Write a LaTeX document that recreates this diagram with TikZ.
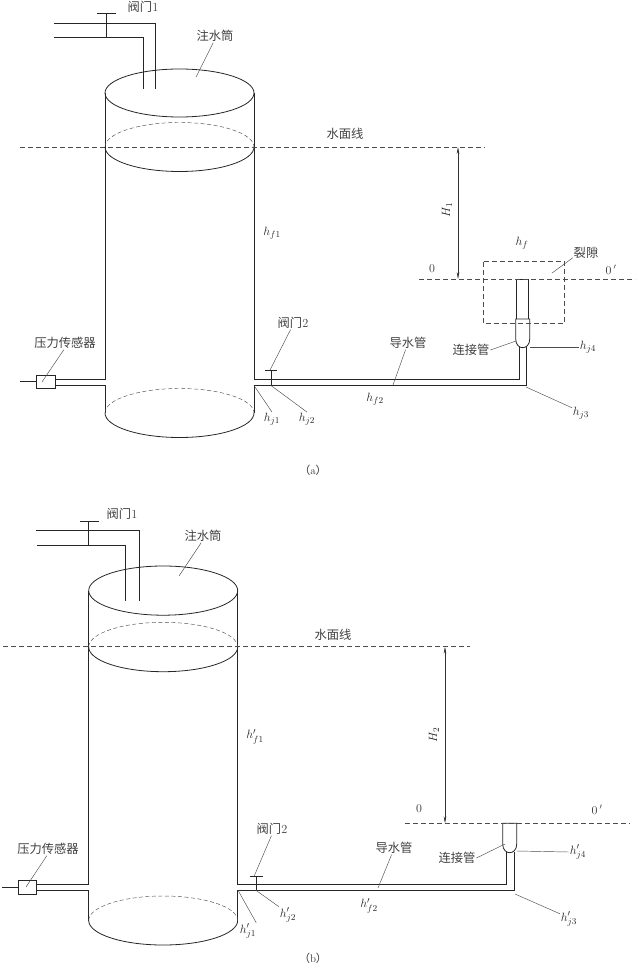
\documentclass[tikz,border=0pt]{standalone}
\usepackage{fontspec}
\usepackage{amsmath}
\newfontfamily\cjkfont{Noto Sans CJK SC}
\usetikzlibrary{arrows.meta}

\tikzset{
	wall/.style={line width=0.8pt, black!85},
	thin line/.style={line width=0.45pt, black!70},
	leader/.style={line width=0.45pt, black!70},
	water/.style={line width=0.45pt, black!70, dash pattern=on 5pt off 3pt},
	head/.style={line width=0.45pt, black!80, {Stealth[length=7pt,width=2.6pt]}-{Stealth[length=7pt,width=2.6pt]}},
	word/.style={inner sep=0.75pt, black!75, font=\cjkfont\fontsize{12.3}{14}\selectfont},
	sym/.style={inner sep=0.75pt, black!85, font=\fontsize{12.5}{14}\selectfont},
	num/.style={inner sep=0.75pt, black!80, font=\fontsize{12}{14}\selectfont},
	caption/.style={inner sep=0.75pt, black!80, font=\fontsize{11}{13}\selectfont}
}

\begin{document}
\begin{tikzpicture}[x=1pt,y=1pt,yscale=-1,xscale=1]
		\useasboundingbox (0,0) rectangle (638,968);

		% Panel (a): the tank
		\draw[wall] (179.5,93) ellipse (74.5 and 24);
		\draw[wall] (105,93) -- (105,379) -- (55,379);
		\draw[wall] (55,385.5) -- (105,385.5) -- (105,413);
		\draw[wall] (254,93) -- (254,379) -- (519,379) -- (519,347);
		\draw[wall] (254,413) -- (254,385.5) -- (526,385.5) -- (526,347);
		\draw[wall] (105,147) arc (180:0:74.5 and 24.5);
		\draw[thin line, dash pattern=on 4pt off 2.5pt] (105,147) arc (180:360:74.5 and 24.5);
		\draw[wall] (105,413) arc (180:0:74.5 and 24.5);
		\draw[thin line, dash pattern=on 4pt off 2.5pt] (105,413) arc (180:360:74.5 and 24.5);

		% Panel (a): inlet pipe and valves
		\draw[wall] (54,23) -- (155.5,23) -- (155.5,89);
		\draw[wall] (54,37) -- (143.5,37) -- (143.5,89);
		\draw[wall] (97,13) -- (116,13);
		\draw[wall] (106.5,13) -- (106.5,37);
		\draw[wall] (265,370) -- (277,370);
		\draw[wall] (271,370) -- (271,385.5);

		% Panel (a): sensor
		\node[draw, line width=0.8pt, black!85, minimum width=19pt, minimum height=12.5pt, inner sep=0pt] (sensorA) at (45.5,381.8) {};
		\coordinate (sensorEndA) at (20,381.8);
		\draw[wall] (sensorEndA) -- (sensorA);

		% Panel (a): tube in the crack and its connector
		\draw[wall] (516.5,319) -- (516.5,279) -- (528.5,279) -- (528.5,319);
		\draw[wall] (515.7,319) -- (529.7,319) -- (529.7,339) .. controls (529.7,345) and (526,347.7) .. (522.7,347.7) .. controls (519.4,347.7) and (515.7,345) .. (515.7,339) -- cycle;
		\draw[thin line, dash pattern=on 5pt off 3pt] (483.3,261.7) rectangle (564.3,323.3);

		% Panel (a): water level and datum
		\draw[water] (20,147) -- (485,147);
		\draw[water] (419,279) -- (635,279);
		\coordinate (levelA) at (458,147);
		\coordinate (datumA) at (458,279);
		\draw[head] (levelA) -- (datumA);

		% Panel (a): labels
		\node[word] (valveOneA) at (143,7) {阀门\textrm{1}};
		\node[word] (tankA) at (215,36) {注水筒};
		\node[word] (levelWordA) at (345,134) {水面线};
		\node[word] (crackA) at (586,253) {裂隙};
		\node[word] (jointA) at (471,350) {连接管};
		\node[word] (guideA) at (408,343) {导水管};
		\node[word] (valveTwoA) at (293,323) {阀门\textrm{2}};
		\node[word] (gaugeA) at (65,343) {压力传感器};
		\node[num] (zeroA) at (432,269) {0};
		\node[num] (zeroPrimeA) at (611,270) {0$\,'$};
		\node[sym, rotate=90] (headA) at (447,210) {$H_{1}$};
		\node[sym] (hfOneA) at (272,233) {$h_{f1}$};
		\node[sym] (hfA) at (522,243) {$h_{f}$};
		\node[sym] (hfTwoA) at (375,399) {$h_{f2}$};
		\node[sym] (hjOneA) at (272,419) {$h_{j1}$};
		\node[sym] (hjTwoA) at (307,419) {$h_{j2}$};
		\node[sym] (hjThreeA) at (581,413) {$h_{j3}$};
		\node[sym] (hjFourA) at (588,347) {$h_{j4}$};
		\node[caption] (capA) at (313,470) {{\cjkfont （}a{\cjkfont ）}};

		% Panel (a): leaders
		\draw[leader] (tankA.255) -- (196,77);
		\draw[leader] (crackA.200) -- (552,273);
		\draw[leader] (jointA.east) -- (516,341);
		\draw[leader] (guideA.250) -- (393,385);
		\draw[leader] (valveTwoA.250) -- (270,370);
		\draw[leader] (gaugeA.260) -- (42,382);
		\draw[leader] (hjOneA.north) -- (254,385.5);
		\draw[leader] (hjTwoA.north) -- (271,385.5);
		\draw[leader] (hjThreeA.150) -- (526,387);
		\draw[leader] (hjFourA.west) -- (530,347);

		% Panel (b): the tank
		\draw[wall] (163.2,590.6) ellipse (74.5 and 24.6);
		\draw[wall] (88.7,590.6) -- (88.7,884.7) -- (36.7,884.7);
		\draw[wall] (36.7,890.3) -- (88.7,890.3) -- (88.7,920.5);
		\draw[wall] (237.7,590.6) -- (237.7,884.7) -- (506.7,884.7) -- (506.7,851.7);
		\draw[wall] (237.7,920.5) -- (237.7,890.3) -- (514,890.3) -- (514,851.7);
		\draw[wall] (88.7,647) arc (180:0:74.5 and 24.7);
		\draw[thin line, dash pattern=on 4pt off 2.5pt] (88.7,647) arc (180:360:74.5 and 24.7);
		\draw[wall] (88.7,920.5) arc (180:0:74.5 and 24.5);
		\draw[thin line, dash pattern=on 4pt off 2.5pt] (88.7,920.5) arc (180:360:74.5 and 24.5);

		% Panel (b): inlet pipe and valves
		\draw[wall] (36,530.3) -- (139,530.3) -- (139,601);
		\draw[wall] (37,545.7) -- (125.5,545.7) -- (125.5,601);
		\draw[wall] (80,521) -- (99,521);
		\draw[wall] (88.5,521) -- (88.5,545.7);
		\draw[wall] (250,876.5) -- (263,876.5);
		\draw[wall] (256,876.5) -- (256,890.3);

		% Panel (b): sensor
		\node[draw, line width=0.8pt, black!85, minimum width=18pt, minimum height=13.3pt, inner sep=0pt] (sensorB) at (27.7,887.3) {};
		\coordinate (sensorEndB) at (2,887.3);
		\draw[wall] (sensorEndB) -- (sensorB);

		% Panel (b): connector at the datum
		\draw[wall] (502.7,823.3) -- (516.7,823.3) -- (516.7,844) .. controls (516.7,850) and (513,852.7) .. (509.7,852.7) .. controls (506.4,852.7) and (502.7,850) .. (502.7,844) -- cycle;

		% Panel (b): water level and datum
		\draw[water] (3,646.7) -- (470,646.7);
		\draw[water] (405,823.3) -- (630,823.3);
		\coordinate (levelB) at (445,646.7);
		\coordinate (datumB) at (445,823.3);
		\draw[head] (levelB) -- (datumB);

		% Panel (b): labels
		\node[word] (valveOneB) at (122,514) {阀门\textrm{1}};
		\node[word] (tankB) at (203,536) {注水筒};
		\node[word] (levelWordB) at (333,635) {水面线};
		\node[word] (jointB) at (457,858) {连接管};
		\node[word] (guideB) at (394,848) {导水管};
		\node[word] (valveTwoB) at (272,829) {阀门\textrm{2}};
		\node[word] (gaugeB) at (48,849) {压力传感器};
		\node[num] (zeroB) at (419,809) {0};
		\node[num] (zeroPrimeB) at (597,810) {0$\,'$};
		\node[sym, rotate=90] (headB) at (434,735) {$H_{2}$};
		\node[sym] (hfOneB) at (255,737) {$h'_{f1}$};
		\node[sym] (hfTwoB) at (369,906) {$h'_{f2}$};
		\node[sym] (hjOneB) at (248,931) {$h'_{j1}$};
		\node[sym] (hjTwoB) at (288,915) {$h'_{j2}$};
		\node[sym] (hjThreeB) at (569,919) {$h'_{j3}$};
		\node[sym] (hjFourB) at (578,852) {$h'_{j4}$};
		\node[caption] (capB) at (313,958) {{\cjkfont （}b{\cjkfont ）}};

		% Panel (b): leaders
		\draw[leader] (tankB.255) -- (179,576);
		\draw[leader] (jointB.east) -- (505,844);
		\draw[leader] (guideB.250) -- (378,888);
		\draw[leader] (valveTwoB.265) -- (254,876.5);
		\draw[leader] (gaugeB.260) -- (26,887);
		\draw[leader] (hjOneB.45) -- (238,890.3);
		\draw[leader] (hjTwoB.north west) -- (256,890.3);
		\draw[leader] (hjThreeB.150) -- (515,894);
		\draw[leader] (hjFourB.west) -- (516.7,851);
	\end{tikzpicture}
\end{document}
